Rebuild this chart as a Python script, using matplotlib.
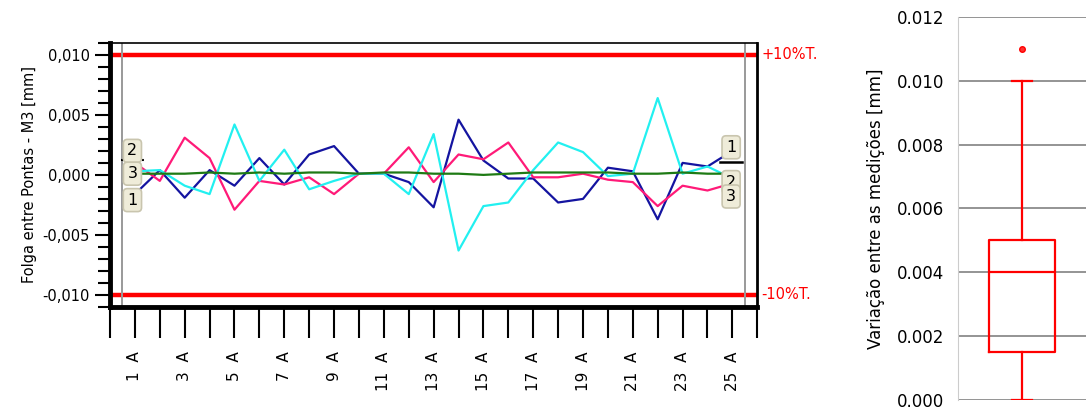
import matplotlib.pyplot as plt
from matplotlib.ticker import MultipleLocator, FuncFormatter

# pontos medidos (1 A .. 25 A)
pontos = list(range(1, 26))
serie_1 = [-0.0016, 0.0004, -0.0019, 0.0004, -0.0009, 0.0014, -0.0008, 0.0017, 0.0024, 0.0001,
           0.0001, -0.0006, -0.0027, 0.0046, 0.0012, -0.0003, -0.0003, -0.0023, -0.0020, 0.0006,
           0.0003, -0.0037, 0.0010, 0.0007, 0.0020]
serie_2 = [0.0010, -0.0005, 0.0031, 0.0014, -0.0029, -0.0005, -0.0008, -0.0002, -0.0016, 0.0001,
           0.0001, 0.0023, -0.0006, 0.0017, 0.0013, 0.0027, -0.0002, -0.0002, 0.0001, -0.0004,
           -0.0006, -0.0026, -0.0009, -0.0013, -0.0007]
serie_3 = [0.0003, 0.0004, -0.0009, -0.0016, 0.0042, -0.0005, 0.0021, -0.0012, -0.0005, 0.0001,
           0.0001, -0.0016, 0.0034, -0.0063, -0.0026, -0.0023, 0.0004, 0.0027, 0.0019, -0.0001,
           0.0001, 0.0064, 0.0001, 0.0007, -0.0003]
media = [0.0001, 0.0001, 0.0001, 0.0002, 0.0001, 0.0002, 0.0001, 0.0002, 0.0002, 0.0001,
         0.0002, 0.0002, 0.0001, 0.0001, 0.0000, 0.0001, 0.0002, 0.0002, 0.0002, 0.0002,
         0.0001, 0.0001, 0.0002, 0.0001, 0.0001]
tolerancia = 0.010

# boxplot da variacao entre as medicoes
box_q1 = 0.0015
box_med = 0.004
box_q3 = 0.005
box_min = 0.0
box_max = 0.010
box_outliers = [0.011]

fig = plt.figure(figsize=(10.86, 4.12), dpi=100)

ax = fig.add_axes([0.1013, 0.255, 0.596, 0.641])
ax.plot(pontos, serie_1, color='#1414A0', lw=1.6, zorder=3)
ax.plot(pontos, serie_2, color='#FF1A78', lw=1.6, zorder=3)
ax.plot(pontos, serie_3, color='#22F0F0', lw=1.6, zorder=3)
ax.plot(pontos, media, color='#1E7A14', lw=1.6, zorder=4)
ax.axhline(tolerancia, color='#FF0000', lw=3.2, zorder=2)
ax.axhline(-tolerancia, color='#FF0000', lw=3.2, zorder=2)
ax.axvline(0.5, color='#999999', lw=1.4)
ax.axvline(25.5, color='#999999', lw=1.4)

ax.set_xlim(0, 26)
ax.set_ylim(-0.011, 0.011)
ax.set_xticks(range(0, 27))
ax.set_xticklabels([f'{i}  A' if i % 2 == 1 and i <= 25 else '' for i in range(0, 27)],
                   rotation=90, fontsize=11)
ax.yaxis.set_major_locator(MultipleLocator(0.005))
ax.yaxis.set_minor_locator(MultipleLocator(0.001))
ax.yaxis.set_major_formatter(FuncFormatter(lambda v, p: f'{v:.3f}'.replace('.', ',').replace('-0,000', '0,000')))
ax.tick_params(axis='y', which='major', length=11, width=1.5, labelsize=10.5)
ax.tick_params(axis='y', which='minor', length=9, width=1.5)
ax.tick_params(axis='x', length=22, width=1.5, pad=10)
ax.set_ylabel('Folga entre Pontas - M3 [mm]', fontsize=10.5, labelpad=4)
ax.spines['left'].set_linewidth(3.5)
ax.spines['bottom'].set_linewidth(3.5)
ax.spines['top'].set_linewidth(1.2)
ax.spines['right'].set_linewidth(2)

ax.text(26.15, tolerancia, '+10%T.', color='#FF0000', fontsize=10.5, va='center', clip_on=False)
ax.text(26.15, -tolerancia, '-10%T.', color='#FF0000', fontsize=10.5, va='center', clip_on=False)

caixa = dict(boxstyle='round,pad=0.25', fc='#EFECD9', ec='#C9C5AE', lw=1.2)
ax.plot([0.45, 1.4], [0.0012, 0.0012], color='black', lw=1.5, ls=(0, (1, 1)), zorder=5)
ax.text(0.9, 0.0020, '2', fontsize=11.5, ha='center', va='center', bbox=caixa, zorder=6)
ax.text(0.9, 0.0001, '3', fontsize=11.5, ha='center', va='center', bbox=caixa, zorder=6)
ax.text(0.9, -0.0021, '1', fontsize=11.5, ha='center', va='center', bbox=caixa, zorder=6)
ax.plot([24.5, 25.4], [0.0011, 0.0011], color='black', lw=1.8, zorder=5)
ax.text(24.95, 0.0023, '1', fontsize=11.5, ha='center', va='center', bbox=caixa, zorder=6)
ax.text(24.95, -0.0006, '2', fontsize=11.5, ha='center', va='center', bbox=caixa, zorder=6)
ax.text(24.95, -0.0018, '3', fontsize=11.5, ha='center', va='center', bbox=caixa, zorder=6)

# boxplot
bx = fig.add_axes([0.882, 0.029, 0.118, 0.93])
stats = [dict(med=box_med, q1=box_q1, q3=box_q3, whislo=box_min, whishi=box_max, fliers=box_outliers)]
vermelho = dict(color='#FF0000', lw=1.6)
bx.bxp(stats, positions=[1], widths=0.52, capwidths=0.16,
       boxprops=vermelho, whiskerprops=vermelho, capprops=vermelho, medianprops=vermelho,
       flierprops=dict(marker='o', markersize=4, markerfacecolor='#FF3030', markeredgecolor='#FF0000'))
bx.set_xlim(0.5, 1.5)
bx.set_ylim(0, 0.012)
bx.set_yticks([0.0, 0.002, 0.004, 0.006, 0.008, 0.010, 0.012])
bx.yaxis.set_major_formatter(FuncFormatter(lambda v, p: f'{v:.3f}'))
bx.set_xticks([])
bx.grid(axis='y', color='#777777', lw=1.1)
bx.set_axisbelow(True)
for s in ['top', 'right', 'bottom']:
    bx.spines[s].set_visible(False)
bx.spines['left'].set_color('#CCCCCC')
bx.tick_params(axis='y', length=0, pad=10, labelsize=12)
bx.set_ylabel('Variação entre as medições [mm]', fontsize=12, labelpad=8)

fig.savefig('out.png', dpi=100)
